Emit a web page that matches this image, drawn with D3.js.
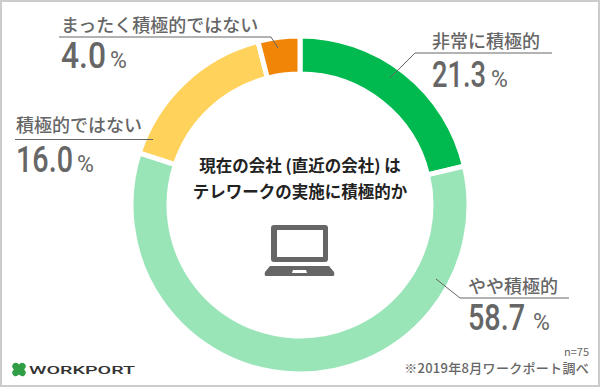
<!DOCTYPE html>
<html lang="ja">
<head>
<meta charset="utf-8">
<script src="https://cdn.jsdelivr.net/npm/d3@7"></script>
<style>
html, body { margin: 0; padding: 0; background: #fff; }
svg { display: block; }
text { font-family: "Noto Sans CJK JP", "Noto Sans", sans-serif; }
</style>
</head>
<body>
<div id="chart"></div>
<script>
var categories = ["非常に積極的", "やや積極的", "積極的ではない", "まったく積極的ではない"];
var values = [21.3, 58.7, 16.0, 4.0];
var valueLabels = ["21.3", "58.7", "16.0", "4.0"];
var sliceColors = ["#00b94f", "#9ae5b8", "#ffd25c", "#f08508"];
var titleLines = ["現在の会社 (直近の会社) は", "テレワークの実施に積極的か"];
var sampleNote = "n=75";
var sourceNote = "※2019年8月ワークポート調べ";
var brandName = "WORKPORT";

var width = 600, height = 387;
var textGray = "#666666";

var svg = d3.select("#chart").append("svg")
    .attr("width", width)
    .attr("height", height);

// outer frame
svg.append("rect")
    .attr("x", 1).attr("y", 1)
    .attr("width", width - 2).attr("height", height - 2)
    .attr("fill", "#fff")
    .attr("stroke", "#cccccc")
    .attr("stroke-width", 2);

// donut
var pie = d3.pie().sort(null).value(function (d) { return d; });
var arc = d3.arc().innerRadius(131).outerRadius(169);

svg.append("g")
    .attr("transform", "translate(300,205)")
    .selectAll("path")
    .data(pie(values))
    .join("path")
    .attr("d", arc)
    .attr("fill", function (d, i) { return sliceColors[i]; })
    .attr("stroke", "#fff")
    .attr("stroke-width", 5);

// where each label block and its leader line go, same order as categories
var labelSpots = [
    { x: 432, nameY: 48, valueY: 87, valueW: 54, pctX: 491, leader: [[552, 53], [415, 53], [390, 78]] },
    { x: 468, nameY: 293, valueY: 330, valueW: 57, pctX: 533, leader: [[569, 298], [460, 298], [436, 279]] },
    { x: 16, nameY: 132, valueY: 172, valueW: 57, pctX: 77, leader: [[15, 139.5], [153, 139.5]] },
    { x: 61, nameY: 32, valueY: 68, valueW: 45, pctX: 110, leader: [[59, 37], [271, 37], [278, 48]] }
];

var line = d3.line();
var labels = svg.selectAll("g.label")
    .data(categories)
    .join("g")
    .attr("class", "label");

labels.append("path")
    .attr("d", function (d, i) { return line(labelSpots[i].leader); })
    .attr("fill", "none")
    .attr("stroke", textGray)
    .attr("stroke-width", 1);

labels.append("text")
    .attr("x", function (d, i) { return labelSpots[i].x; })
    .attr("y", function (d, i) { return labelSpots[i].nameY; })
    .attr("font-size", 18)
    .attr("font-weight", 500)
    .attr("fill", textGray)
    .text(function (d) { return d; });

// no narrow DIN here, so squeeze Roboto into the measured widths
labels.append("text")
    .attr("x", function (d, i) { return labelSpots[i].x; })
    .attr("y", function (d, i) { return labelSpots[i].valueY; })
    .attr("font-size", 36)
    .attr("font-weight", 500)
    .attr("textLength", function (d, i) { return labelSpots[i].valueW; })
    .attr("lengthAdjust", "spacingAndGlyphs")
    .attr("fill", textGray)
    .style("font-family", "Roboto")
    .text(function (d, i) { return valueLabels[i]; });

labels.append("text")
    .attr("x", function (d, i) { return labelSpots[i].pctX; })
    .attr("y", function (d, i) { return labelSpots[i].valueY; })
    .attr("font-size", 23)
    .attr("fill", textGray)
    .style("font-family", "Roboto")
    .text("%");

// center title
svg.selectAll("text.title")
    .data(titleLines)
    .join("text")
    .attr("class", "title")
    .attr("x", 300)
    .attr("y", function (d, i) { return 172 + i * 26; })
    .attr("text-anchor", "middle")
    .attr("font-size", 16.5)
    .attr("font-weight", 700)
    .attr("fill", "#222")
    .text(function (d) { return d; });

// laptop icon
var laptop = svg.append("g").attr("fill", "#666666");
laptop.append("path")
    .attr("fill-rule", "evenodd")
    .attr("d", "M274 225H325a3 3 0 0 1 3 3V259a3 3 0 0 1 -3 3H274a3 3 0 0 1 -3 -3V228a3 3 0 0 1 3 -3Z M277 230V257H323V230Z");
laptop.append("path")
    .attr("fill-rule", "evenodd")
    .attr("d", "M270 266H329L334 272Q335 276 333 276H266Q264 276 265 272Z M293 270L292 273H307L306 270Z");

// footer notes
svg.append("text")
    .attr("x", 589).attr("y", 356)
    .attr("text-anchor", "end")
    .attr("font-size", 11)
    .attr("fill", textGray)
    .text(sampleNote);

svg.append("text")
    .attr("x", 589).attr("y", 373)
    .attr("text-anchor", "end")
    .attr("font-size", 13)
    .attr("font-weight", 500)
    .attr("letter-spacing", 0.3)
    .attr("fill", textGray)
    .text(sourceNote);

// brand mark: four leaf clover + wordmark
var clover = svg.append("g").attr("transform", "translate(19,369.5)").attr("fill", "#2f9e44");
[45, 135, 225, 315].forEach(function (a) {
    clover.append("ellipse")
        .attr("cx", 0).attr("cy", -4)
        .attr("rx", 3.6).attr("ry", 4)
        .attr("transform", "rotate(" + a + ")");
});

svg.append("text")
    .attr("x", 29).attr("y", 373.5)
    .attr("font-size", 11.5)
    .attr("font-weight", 500)
    .attr("textLength", 106)
    .attr("lengthAdjust", "spacingAndGlyphs")
    .attr("fill", "#333")
    .style("font-family", "Roboto")
    .text(brandName);
</script>
</body>
</html>
